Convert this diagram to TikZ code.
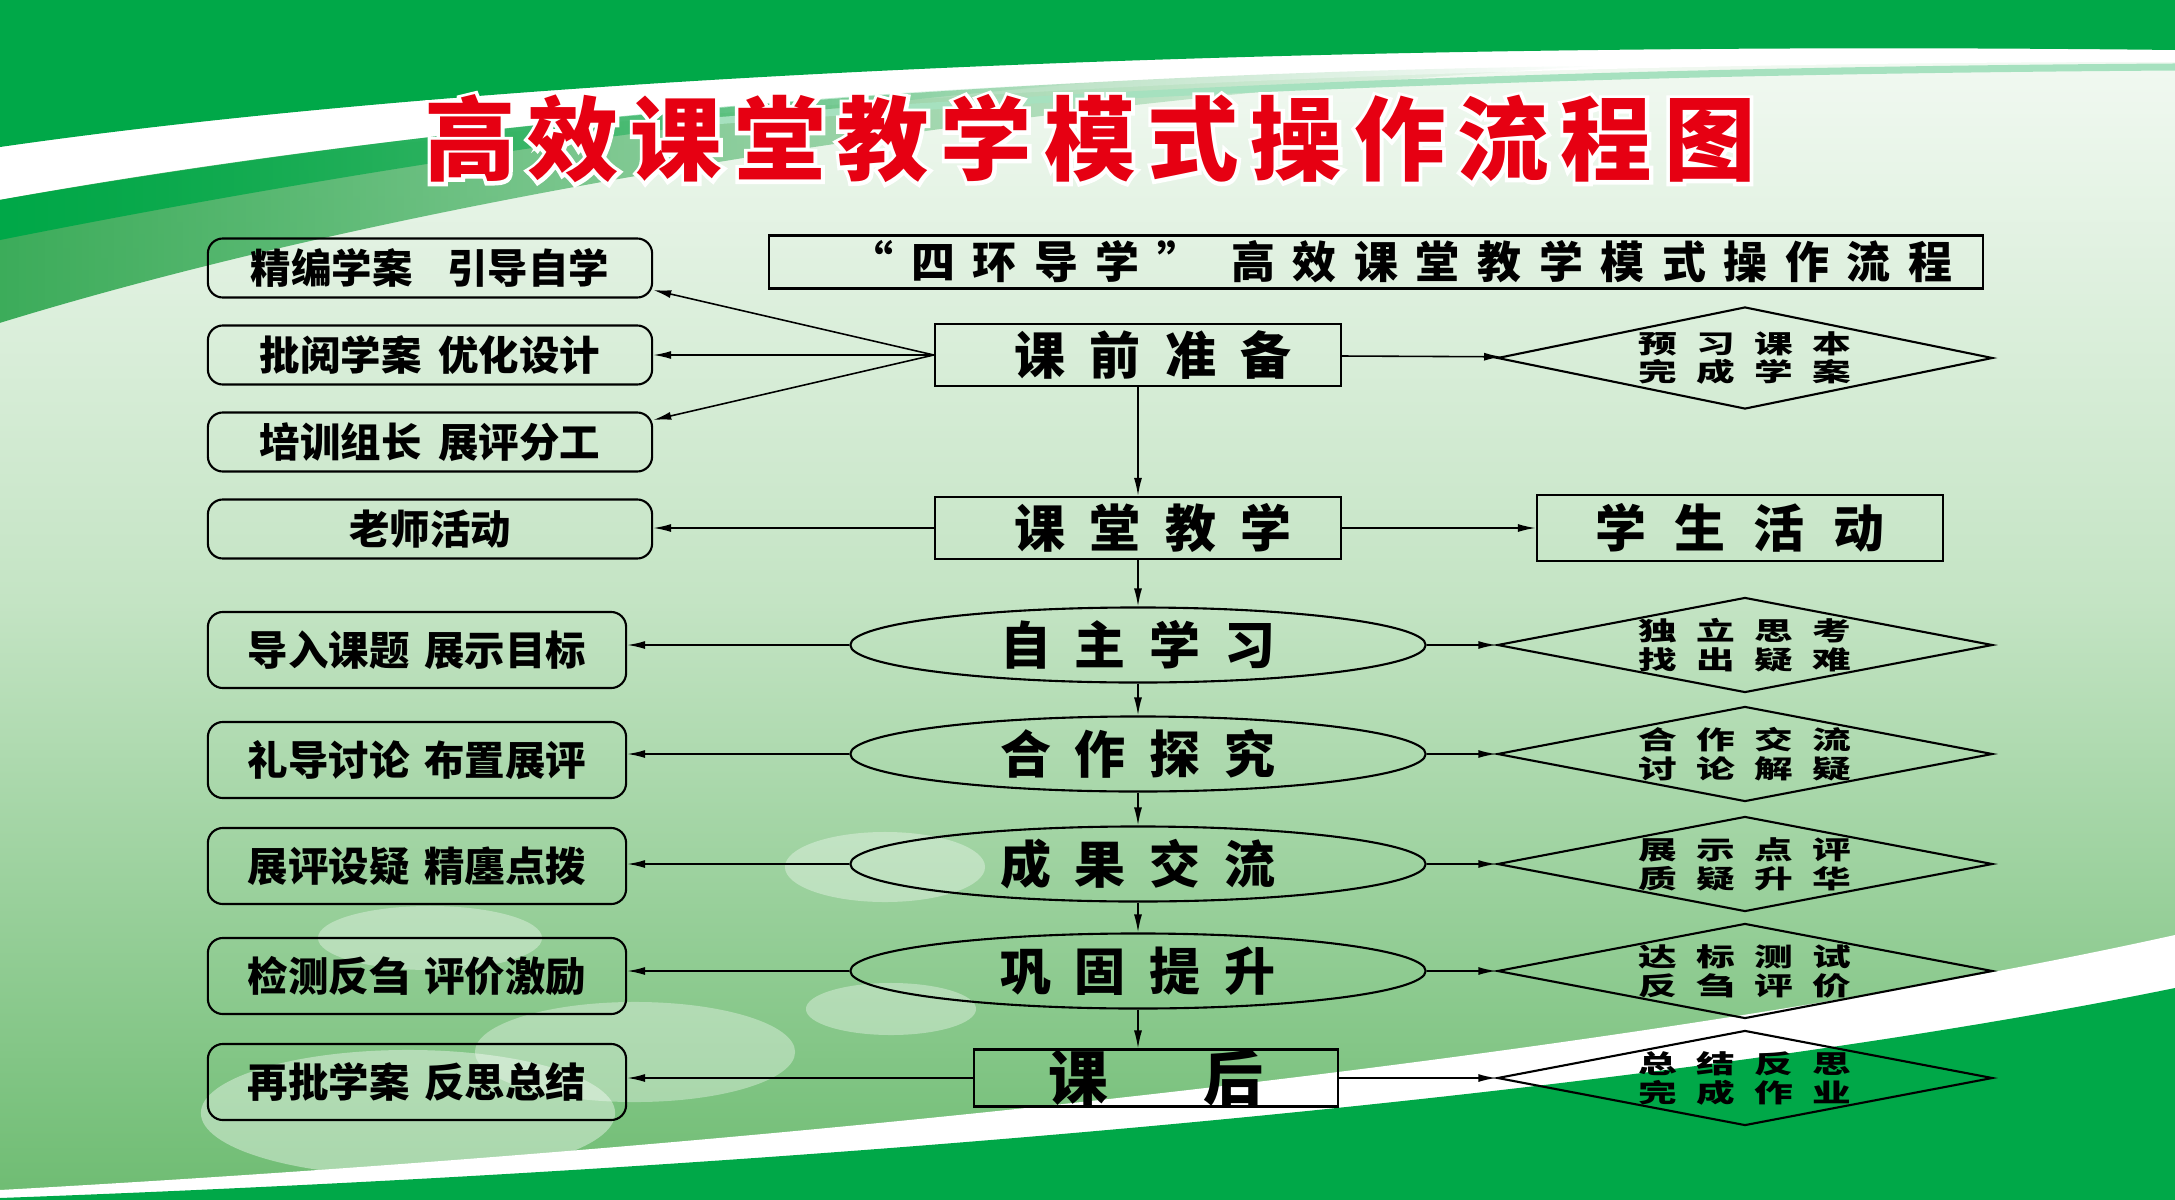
\documentclass[tikz,border=0pt]{standalone}
\usepackage{fontspec}
\usepackage{graphicx}
\usetikzlibrary{arrows.meta, positioning, shapes.geometric, fadings}
\newfontfamily\cjk{Noto Sans CJK SC}
\definecolor{lvse}{RGB}{0,168,72}
\definecolor{qianlv}{RGB}{60,172,90}
\definecolor{beijingtop}{RGB}{246,251,246}
\definecolor{beijingmid}{RGB}{196,228,196}
\definecolor{beijingbot}{RGB}{110,188,114}
\definecolor{biaotihong}{RGB}{230,0,18}
\tikzfading[name=xiaoshi, left color=transparent!0, right color=transparent!100]
\newcommand{\bian}[1]{\scalebox{1}[0.66]{#1}}

\begin{document}
\begin{tikzpicture}[x=0.01cm, y=-0.01cm,
  kuang/.style={draw, line width=0.6pt, rounded corners=0.15cm, inner sep=0pt,
               minimum width=4.44cm, minimum height=0.59cm, font=\cjk\bfseries\fontsize{11.5}{12}\selectfont},
  kuangda/.style={kuang, minimum width=4.18cm, minimum height=0.76cm},
  zhukuang/.style={draw, line width=0.6pt, inner sep=0pt, minimum width=4.06cm, minimum height=0.62cm,
               font=\cjk\bfseries\fontsize{14.5}{15}\selectfont\addfontfeature{LetterSpace=48}},
  tuoyuan/.style={draw, ellipse, line width=0.6pt, inner sep=0pt, minimum width=5.75cm,
               minimum height=0.75cm, font=\cjk\bfseries\fontsize{14.5}{15}\selectfont\addfontfeature{LetterSpace=47}},
  lingxing/.style={draw, diamond, aspect=5.2, line width=0.6pt, inner sep=0pt, minimum width=4.95cm,
               minimum height=0.95cm, align=center,
               font=\cjk\bfseries\fontsize{11}{8.2}\selectfont\addfontfeature{LetterSpace=50}},
  jiantou/.style={-{Latex[length=1.8mm, width=0.8mm]}, line width=0.45pt}
]
\useasboundingbox (0,0) rectangle (2175,1200);
\shade[top color=beijingtop, bottom color=beijingbot, middle color=beijingmid] (0,0) rectangle (2175,1200);

\fill[white] (0,140) .. controls (500,70) and (1300,35) .. (2175,45) -- (2175,62)
  .. controls (1300,62) and (500,110) .. (0,200) -- cycle;
\fill[qianlv, path fading=xiaoshi] (0,200) .. controls (500,110) and (1100,72) .. (1600,66)
  .. controls (1000,100) and (400,200) .. (0,323) -- cycle;
\fill[lvse, path fading=xiaoshi] (0,200) .. controls (400,130) and (800,95) .. (1100,82)
  .. controls (700,115) and (300,180) .. (0,240) -- cycle;
\draw[lvse!35, line width=2pt] (700,122) .. controls (1200,84) and (1700,70) .. (2175,67);
\fill[lvse] (0,0) -- (2175,0) -- (2175,50) .. controls (1300,40) and (500,75) .. (0,147) -- cycle;

\fill[white, opacity=0.35] (430,938) ellipse [x radius=1.12cm, y radius=0.32cm];
\fill[white, opacity=0.35] (635,1052) ellipse [x radius=1.6cm, y radius=0.5cm];
\fill[white, opacity=0.4] (408,1113) ellipse [x radius=2.07cm, y radius=0.63cm];
\fill[white, opacity=0.35] (885,867) ellipse [x radius=1.0cm, y radius=0.35cm];
\fill[white, opacity=0.35] (891,1009) ellipse [x radius=0.85cm, y radius=0.26cm];

\fill[white] (0,1190) .. controls (900,1140) and (1700,1040) .. (2175,935) -- (2175,1200) -- (0,1200) -- cycle;
\fill[lvse] (0,1198) .. controls (900,1165) and (1700,1085) .. (2175,988) -- (2175,1200) -- (0,1200) -- cycle;

\node[text=white, font=\cjk\bfseries\fontsize{26}{28}\selectfont\addfontfeature{LetterSpace=13, FakeBold=8}]
  (biaotidi) at (1090,139) {高效课堂教学模式操作流程图};
\node[text=biaotihong, font=\cjk\bfseries\fontsize{26}{28}\selectfont\addfontfeature{LetterSpace=13}]
  (biaoti) at (1090,139) {高效课堂教学模式操作流程图};
\node[draw, line width=0.6pt, inner sep=0pt, minimum width=12.13cm, minimum height=0.53cm,
  font=\cjk\bfseries\fontsize{12.5}{13}\selectfont\addfontfeature{LetterSpace=40}]
  (zongti) at (1376,262) {\hspace*{0.5cm}“四环导学”\hspace{0.3cm}高效课堂教学模式操作流程};

\node[kuang] (jingbian) at (430,268) {精编学案\hspace{0.35cm}引导自学};
\node[kuang] (piyue) at (430,355) {批阅学案\hspace{0.17cm}优化设计};
\node[kuang] (peixun) at (430,442) {培训组长\hspace{0.17cm}展评分工};
\node[kuang] (laoshi) at (430,529) {老师活动};
\node[kuangda] (daoru) at (417,650) {导入课题\hspace{0.15cm}展示目标};
\node[kuangda] (lidao) at (417,760) {礼导讨论\hspace{0.15cm}布置展评};
\node[kuangda] (zhanping) at (417,866) {展评设疑\hspace{0.15cm}精廛点拨};
\node[kuangda] (jiance) at (417,976) {检测反刍\hspace{0.15cm}评价激励};
\node[kuangda] (zaipi) at (417,1082) {再批学案\hspace{0.15cm}反思总结};

\node[zhukuang] (qian) at (1138,355) {\hspace*{0.3cm}课前准备};
\node[zhukuang] (ketang) at (1138,528) {\hspace*{0.3cm}课堂教学};
\node[tuoyuan] (zizhu) at (1138,645) {自主学习};
\node[tuoyuan] (hezuo) at (1138,754) {合作探究};
\node[tuoyuan] (chengguo) at (1138,864) {成果交流};
\node[tuoyuan] (gonggu) at (1138,971) {巩固提升};
\node[zhukuang, minimum width=3.64cm, minimum height=0.55cm, font=\cjk\bfseries\fontsize{17}{18}\selectfont]
  (kehou) at (1156,1078) {课\hspace{0.95cm}后};

\node[zhukuang, minimum height=0.66cm, font=\cjk\bfseries\fontsize{14.5}{15}\selectfont\addfontfeature{LetterSpace=55}]
  (xuesheng) at (1740,528) {学生活动};
\node[lingxing, minimum height=1.02cm] (yuxi) at (1745,358) {\bian{预习课本}\\\bian{完成学案}};
\node[lingxing] (duli) at (1745,645) {\bian{独立思考}\\\bian{找出疑难}};
\node[lingxing] (jiaoliu) at (1745,754) {\bian{合作交流}\\\bian{讨论解疑}};
\node[lingxing] (zhanshi) at (1745,864) {\bian{展示点评}\\\bian{质疑升华}};
\node[lingxing] (dabiao) at (1745,971) {\bian{达标测试}\\\bian{反刍评价}};
\node[lingxing] (zongjie) at (1745,1078) {\bian{总结反思}\\\bian{完成作业}};

\draw[jiantou] (qian.west) -- ([yshift=-0.22cm]jingbian.east);
\draw[jiantou] (qian.west) -- (piyue.east);
\draw[jiantou] (qian.west) -- ([yshift=0.22cm]peixun.east);
\draw[jiantou] (qian) -- (yuxi);
\draw[jiantou] (qian) -- (ketang);
\draw[jiantou] (ketang.west) -- (ketang.west -| laoshi.east);
\draw[jiantou] (ketang) -- (xuesheng);
\draw[jiantou] (ketang) -- (zizhu);
\draw[jiantou] (zizhu) -- (hezuo);
\draw[jiantou] (hezuo) -- (chengguo);
\draw[jiantou] (chengguo) -- (gonggu);
\draw[jiantou] (gonggu.south) -- (gonggu.south |- kehou.north);
\draw[jiantou] (zizhu.west) -- (zizhu.west -| daoru.east);
\draw[jiantou] (hezuo.west) -- (hezuo.west -| lidao.east);
\draw[jiantou] (chengguo.west) -- (chengguo.west -| zhanping.east);
\draw[jiantou] (gonggu.west) -- (gonggu.west -| jiance.east);
\draw[jiantou] (kehou.west) -- (kehou.west -| zaipi.east);
\draw[jiantou] (zizhu) -- (duli);
\draw[jiantou] (hezuo) -- (jiaoliu);
\draw[jiantou] (chengguo) -- (zhanshi);
\draw[jiantou] (gonggu) -- (dabiao);
\draw[jiantou] (kehou) -- (zongjie);
\end{tikzpicture}
\end{document}
